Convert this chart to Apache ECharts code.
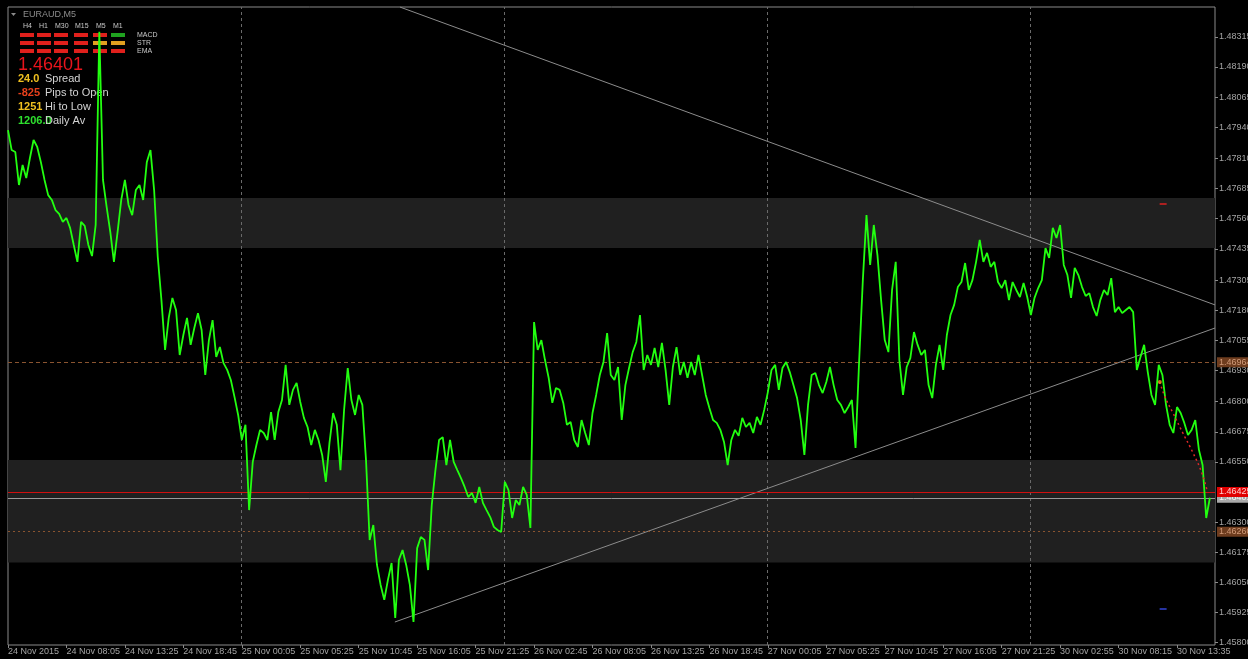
<!DOCTYPE html>
<html>
<head>
<meta charset="utf-8">
<script src="https://cdn.jsdelivr.net/npm/echarts@6/dist/echarts.min.js"></script>
<style>
html,body{margin:0;padding:0;background:#000;}
#c{width:1248px;height:659px;}
</style>
</head>
<body>
<div id="c"></div>
<script>
// ---- data ----
const timeLabels = ['24 Nov 2015','24 Nov 08:05','24 Nov 13:25','24 Nov 18:45','25 Nov 00:05','25 Nov 05:25','25 Nov 10:45','25 Nov 16:05','25 Nov 21:25','26 Nov 02:45','26 Nov 08:05','26 Nov 13:25','26 Nov 18:45','27 Nov 00:05','27 Nov 05:25','27 Nov 10:45','27 Nov 16:05','27 Nov 21:25','30 Nov 02:55','30 Nov 08:15','30 Nov 13:35'];
const labelStep = 16; // one label every 16 points (20-minute steps)
const priceTicks = [1.48315,1.48190,1.48065,1.47940,1.47810,1.47685,1.47560,1.47435,1.47305,1.47180,1.47055,1.46930,1.46800,1.46675,1.46550,1.46300,1.46175,1.46050,1.45925,1.45800];
const close = [
1.47928,1.47845,1.47837,1.47700,1.47783,1.47729,1.47812,1.47887,1.47858,1.47795,
1.47721,1.47658,1.47638,1.47596,1.47580,1.47547,1.47563,1.47522,1.47451,1.47381,
1.47547,1.47530,1.47451,1.47405,1.47534,1.48336,1.47721,1.47609,1.47505,1.47381,
1.47505,1.47638,1.47721,1.47617,1.47575,1.47679,1.47700,1.47638,1.47795,1.47845,
1.47679,1.47401,1.47222,1.47015,1.47148,1.47231,1.47181,1.46994,1.47077,1.47148,
1.47036,1.47106,1.47168,1.47098,1.46911,1.47056,1.47139,1.46986,1.47027,1.46960,
1.46932,1.46890,1.46820,1.46745,1.46641,1.46704,1.46350,1.46550,1.46620,1.46683,
1.46670,1.46641,1.46757,1.46641,1.46757,1.46807,1.46953,1.46787,1.46849,1.46878,
1.46799,1.46733,1.46695,1.46620,1.46683,1.46641,1.46579,1.46467,1.46629,1.46753,
1.46704,1.46516,1.46766,1.46940,1.46807,1.46745,1.46828,1.46787,1.46558,1.46226,
1.46288,1.46122,1.46039,1.45977,1.46060,1.46130,1.45902,1.46143,1.46184,1.46122,
1.46039,1.45885,1.46192,1.46238,1.46226,1.46101,1.46371,1.46516,1.46641,1.46653,
1.46537,1.46641,1.46550,1.46516,1.46483,1.46446,1.46404,1.46421,1.46380,1.46446,
1.46380,1.46350,1.46321,1.46280,1.46267,1.46259,1.46467,1.46433,1.46317,1.46392,
1.46371,1.46446,1.46413,1.46276,1.47131,1.47015,1.47056,1.46973,1.46899,1.46795,
1.46857,1.46849,1.46795,1.46704,1.46716,1.46641,1.46612,1.46724,1.46670,1.46620,
1.46753,1.46828,1.46911,1.46965,1.47085,1.46911,1.46890,1.46944,1.46724,1.46869,
1.46940,1.47006,1.47048,1.47160,1.46932,1.46994,1.46953,1.47023,1.46944,1.47044,
1.46932,1.46787,1.46944,1.47027,1.46911,1.46965,1.46899,1.46965,1.46911,1.46994,
1.46911,1.46828,1.46774,1.46724,1.46712,1.46683,1.46633,1.46537,1.46641,1.46683,
1.46658,1.46733,1.46695,1.46712,1.46670,1.46737,1.46704,1.46766,1.46840,1.46932,
1.46953,1.46849,1.46940,1.46965,1.46923,1.46869,1.46815,1.46724,1.46579,1.46787,
1.46911,1.46919,1.46869,1.46836,1.46882,1.46944,1.46869,1.46807,1.46787,1.46753,
1.46778,1.46807,1.46608,1.46973,1.47305,1.47575,1.47368,1.47534,1.47409,1.47222,
1.47056,1.47006,1.47264,1.47381,1.46973,1.46828,1.46944,1.46981,1.47089,1.47036,
1.46994,1.47015,1.46869,1.46815,1.46953,1.47036,1.46932,1.47077,1.47160,1.47202,
1.47276,1.47297,1.47376,1.47264,1.47305,1.47381,1.47472,1.47381,1.47418,1.47360,
1.47381,1.47297,1.47272,1.47305,1.47222,1.47297,1.47264,1.47235,1.47293,1.47235,
1.47160,1.47231,1.47272,1.47305,1.47438,1.47397,1.47522,1.47480,1.47534,1.47368,
1.47326,1.47231,1.47356,1.47326,1.47276,1.47239,1.47251,1.47193,1.47156,1.47222,
1.47264,1.47243,1.47313,1.47172,1.47193,1.47168,1.47181,1.47193,1.47172,1.46932,
1.46986,1.47036,1.46923,1.46828,1.46787,1.46953,1.46911,1.46787,1.46704,1.46670,
1.46778,1.46753,1.46712,1.46662,1.46683,1.46724,1.46600,1.46537,1.46317,1.46401
];
const dayBreaks = [63.75, 135.75, 207.75, 279.75];
const zoneBands = [[1.47646, 1.47438], [1.46558, 1.46132]];
const askPrice = 1.46425;
const bidPrice = 1.46401;
const upperLevel = 1.46964;
const lowerLevel = 1.46260;
const trendDown = [[107.3, 1.48439], [330.4, 1.47202]];
const trendUp = [[105.9, 1.45885], [330.4, 1.47106]];
const projection = [[315.3,1.46882],[316.7,1.46820],[318.9,1.46753],[321.6,1.46670],[324.4,1.46587],[326.8,1.46504],[328.2,1.46433]];
const projectionStart = [315.3, 1.46882];
const redMark = [316.2, 1.47621];
const blueMark = [316.2, 1.45939];
const symbolName = 'EURAUD,M5';
const panelFrames = ['H4','H1','M30','M15','M5','M1'];
const panelRows = ['MACD','STR','EMA'];
const panelStatus = [['r','r','r','r','r','g'],['r','r','r','r','o','o'],['r','r','r','r','r','r']];
const infoValues = ['24.0','-825','1251','1206.0'];
const infoNames = ['Spread','Pips to Open','Hi to Low','Daily Av'];

// ---- chart ----
const FONT = 'Liberation Sans, Arial, sans-serif';
const chart = echarts.init(document.getElementById('c'), null, {renderer:'canvas'});
const statusColor = {r:'#e0201c', g:'#1fa21f', o:'#e0a020'};
const infoColors = ['#f0c020','#e8401c','#f0c020','#2ee02e'];

const graphic = [];
graphic.push({type:'polygon', shape:{points:[[11,13],[16,13],[13.5,16]]}, style:{fill:'#8a8a8a'}});
graphic.push({type:'text', x:23, y:14.5, style:{text:symbolName, font:'9px '+FONT, fill:'#8c8c8c', verticalAlign:'middle'}});
const colX = [20,37,54,74,93,111];
const lblX = [23,39,55,75,96,113];
panelFrames.forEach((f,k)=>{
  graphic.push({type:'text', x:lblX[k], y:26, style:{text:f, font:'7px '+FONT, fill:'#c8c8c8', verticalAlign:'middle'}});
});
panelRows.forEach((r,j)=>{
  panelStatus[j].forEach((s,k)=>{
    graphic.push({type:'rect', shape:{x:colX[k], y:33+j*8, width:14, height:4}, style:{fill:statusColor[s]}});
  });
  graphic.push({type:'text', x:137, y:35+j*8, style:{text:r, font:'7px '+FONT, fill:'#c8c8c8', verticalAlign:'middle'}});
});
graphic.push({type:'text', x:18, y:65, style:{text:bidPrice.toFixed(5), font:'18px '+FONT, fill:'#e8141c', verticalAlign:'middle'}});
infoValues.forEach((v,k)=>{
  graphic.push({type:'text', x:18, y:79+k*14, style:{text:v, font:'bold 11px '+FONT, fill:infoColors[k], verticalAlign:'middle'}});
  graphic.push({type:'text', x:45, y:79+k*14, style:{text:infoNames[k], font:'11px '+FONT, fill:'#d4d4d4', verticalAlign:'middle'}});
});

const xMax = 330.4;
const lvlLabel = (bg, fg) => ({show:true, position:'end', distance:2, formatter:(p)=>Number(p.value).toFixed(5),
  backgroundColor:bg, color:fg, fontSize:9, fontFamily:FONT, padding:[1,2,0,2]});

const option = {
  backgroundColor:'#000',
  animation:false,
  graphic: graphic,
  grid:{left:8, right:33, top:7, bottom:14, show:true, borderColor:'#8a8a8a', borderWidth:1, backgroundColor:'#000',
    containLabel:false, outerBoundsMode:'none'},
  xAxis:{
    type:'value', min:0, max:xMax,
    axisLine:{show:false, onZero:false},
    splitLine:{show:false},
    axisTick:{show:true, inside:false, length:3, lineStyle:{color:'#8a8a8a'}, customValues: timeLabels.map((_,k)=>k*labelStep)},
    axisLabel:{show:true, color:'#a4a4a4', fontSize:9, fontFamily:FONT, margin:2, align:'left', hideOverlap:false,
      customValues: timeLabels.map((_,k)=>k*labelStep),
      formatter:(v)=>timeLabels[Math.round(v/labelStep)] || ''}
  },
  yAxis:{
    type:'value', position:'right', min:1.457896, max:1.484392, scale:true,
    axisLine:{show:false, onZero:false},
    splitLine:{show:false},
    axisTick:{show:true, length:3, lineStyle:{color:'#8a8a8a'}, customValues: priceTicks},
    axisLabel:{show:true, color:'#a4a4a4', fontSize:9, fontFamily:FONT, margin:4, hideOverlap:false,
      customValues: priceTicks, formatter:(v)=>v.toFixed(5)}
  },
  series:[
    { // zones and day separators (background)
      type:'line', data:[], z:1, silent:true,
      markArea:{silent:true, itemStyle:{color:'#202020'},
        data: zoneBands.map(b=>[{yAxis:b[0]},{yAxis:b[1]}])},
      markLine:{silent:true, symbol:'none', label:{show:false}, precision:6,
        lineStyle:{color:'#6a6a6a', type:[3,3], width:1},
        data: dayBreaks.map(d=>({xAxis:d}))}
    },
    { // trend lines
      type:'line', data:[], z:2, silent:true,
      markLine:{silent:true, symbol:'none', label:{show:false}, precision:6,
        lineStyle:{color:'#8c8c8c', type:'solid', width:1},
        data:[
          [{coord:trendDown[0]},{coord:trendDown[1]}],
          [{coord:trendUp[0]},{coord:trendUp[1]}]
        ]}
    },
    { // price levels
      type:'line', data:[], z:3, silent:true,
      markLine:{silent:true, symbol:'none', precision:6,
        data:[
          {yAxis:upperLevel, lineStyle:{color:'#8a5430', type:[4,3], width:1}, label:lvlLabel('#6e3c1e','#d09a78')},
          {yAxis:lowerLevel, lineStyle:{color:'#8a5430', type:[2,3], width:1}, label:lvlLabel('#6e3c1e','#d09a78')},
          {yAxis:bidPrice, lineStyle:{color:'#9a9a9a', type:'solid', width:1}, label:lvlLabel('#a8a8a8','#f4f4f4')},
          {yAxis:askPrice, lineStyle:{color:'#d01010', type:'solid', width:1}, label:lvlLabel('#e00000','#ffd0d0')}
        ]}
    },
    { // price
      type:'line', z:5, showSymbol:false, silent:true,
      data: close.map((v,i)=>[i,v]),
      lineStyle:{color:'#22ff10', width:1.8},
      itemStyle:{color:'#22ff10'}
    },
    { // projection dotted
      type:'line', z:6, showSymbol:false, silent:true, smooth:true,
      data: projection,
      lineStyle:{color:'#e02828', width:1.5, type:[2,3]}
    },
    {
      type:'scatter', z:7, silent:true, symbol:'circle', symbolSize:4,
      itemStyle:{color:'#ff8a20'}, data:[projectionStart]
    },
    {
      type:'scatter', z:7, silent:true, symbol:'rect', symbolSize:[7,2],
      itemStyle:{color:'#d02020'}, data:[redMark]
    },
    {
      type:'scatter', z:7, silent:true, symbol:'rect', symbolSize:[7,2],
      itemStyle:{color:'#3040c8'}, data:[blueMark]
    }
  ]
};
chart.setOption(option);
</script>
</body>
</html>
